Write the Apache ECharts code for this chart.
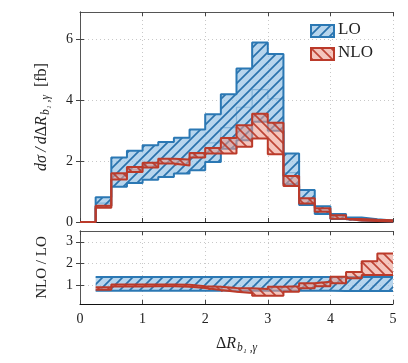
<!DOCTYPE html>
<html>
<head>
<meta charset="utf-8">
<script src="https://cdn.jsdelivr.net/npm/echarts@6/dist/echarts.min.js"></script>
<style>
html, body { margin: 0; padding: 0; background: #fff; }
#chart { width: 408px; height: 363px; }
</style>
</head>
<body>
<div id="chart"></div>
<script>
// bin edges (left edges, last bin ends at 5)
var edges = [0, 0.25, 0.5, 0.75, 1, 1.25, 1.5, 1.75, 2, 2.25, 2.5, 2.75, 3, 3.25, 3.5, 3.75, 4, 4.25, 4.5, 4.75];
var xEnd = 5;
// top panel, d sigma / d dR [fb]
var loUp  = [0, 0.81, 2.12, 2.34, 2.52, 2.63, 2.77, 3.04, 3.54, 4.20, 5.04, 5.90, 5.52, 2.25, 1.05, 0.52, 0.26, 0.15, 0.09, 0.05];
var loMid = [0, 0.62, 1.55, 1.72, 1.85, 1.93, 2.03, 2.22, 2.60, 3.10, 3.77, 4.35, 4.05, 1.62, 0.77, 0.38, 0.19, 0.11, 0.07, 0.04];
var loLo  = [0, 0.52, 1.16, 1.28, 1.39, 1.48, 1.59, 1.70, 1.97, 2.41, 2.69, 3.29, 3.00, 1.24, 0.56, 0.26, 0.10, 0.05, 0.03, 0.02];
var nloUp = [0, 0.53, 1.60, 1.81, 1.95, 2.08, 2.05, 2.27, 2.43, 2.76, 3.18, 3.56, 3.26, 1.51, 0.78, 0.45, 0.22, 0.10, 0.07, 0.06];
var nloLo = [0, 0.47, 1.40, 1.64, 1.79, 1.92, 1.86, 2.12, 2.25, 2.25, 2.47, 2.74, 2.23, 1.18, 0.61, 0.34, 0.11, 0.05, 0.03, 0.02];
// ratio panel (bins from 0.25)
var rEdges = [0.25, 0.5, 0.75, 1, 1.25, 1.5, 1.75, 2, 2.25, 2.5, 2.75, 3, 3.25, 3.5, 3.75, 4, 4.25, 4.5, 4.75];
var rLoUp  = [1.37, 1.37, 1.37, 1.37, 1.37, 1.37, 1.37, 1.37, 1.37, 1.37, 1.37, 1.37, 1.37, 1.37, 1.37, 1.37, 1.37, 1.37, 1.37];
var rLoLo  = [0.74, 0.74, 0.74, 0.74, 0.74, 0.74, 0.74, 0.74, 0.74, 0.74, 0.74, 0.74, 0.74, 0.74, 0.74, 0.73, 0.73, 0.73, 0.73];
var rNloUp = [0.90, 1.03, 1.03, 1.03, 1.03, 1.02, 0.95, 0.92, 0.87, 0.85, 0.82, 0.92, 0.95, 1.08, 1.15, 1.38, 1.61, 2.10, 2.46];
var rNloLo = [0.78, 0.93, 0.93, 0.94, 0.94, 0.92, 0.86, 0.77, 0.69, 0.63, 0.51, 0.51, 0.69, 0.85, 0.95, 1.08, 1.31, 1.46, 1.46];
var yTicks = [0, 2, 4, 6];
var rTicks = [1, 2, 3];

var BLUE = '#2b78b4';
var RED = '#bb3a2a';
var FONT = 'Liberation Serif';

function hatch(bg, fg, dir) {
    var c = document.createElement('canvas');
    c.width = 10; c.height = 10;
    var g = c.getContext('2d');
    g.fillStyle = bg;
    g.fillRect(0, 0, 10, 10);
    g.strokeStyle = fg;
    g.lineWidth = 1.7;
    g.beginPath();
    if (dir > 0) {
        g.moveTo(-5, 5); g.lineTo(5, -5);
        g.moveTo(0, 10); g.lineTo(10, 0);
        g.moveTo(5, 15); g.lineTo(15, 5);
    } else {
        g.moveTo(-5, 5); g.lineTo(5, 15);
        g.moveTo(0, 0); g.lineTo(10, 10);
        g.moveTo(5, -5); g.lineTo(15, 5);
    }
    g.stroke();
    return c;
}
var bluePat = {image: hatch('rgba(145,192,228,0.66)', 'rgba(35,110,170,0.95)', 1), repeat: 'repeat'};
var redPat = {image: hatch('rgba(236,155,142,0.58)', 'rgba(185,55,40,0.9)', -1), repeat: 'repeat'};

function steps(xs, vals) {
    var d = [];
    for (var i = 0; i < xs.length; i++) d.push([xs[i], vals[i]]);
    d.push([xEnd, vals[vals.length - 1]]);
    return d;
}

function stepLine(name, xi, yi, xs, vals, color, width, z) {
    return {
        name: name, type: 'line', xAxisIndex: xi, yAxisIndex: yi,
        step: 'end', symbol: 'none', silent: true, z: z,
        lineStyle: {color: color, width: width},
        data: steps(xs, vals)
    };
}

// filled band between two step curves
function band(xi, yi, xs, up, lo, pat, z) {
    return {
        type: 'custom', xAxisIndex: xi, yAxisIndex: yi, silent: true, z: z, clip: true,
        data: [[xs[0], lo[0]]],
        renderItem: function (params, api) {
            var pts = [];
            var i;
            for (i = 0; i < xs.length; i++) {
                var x1 = i + 1 < xs.length ? xs[i + 1] : xEnd;
                pts.push(api.coord([xs[i], up[i]]));
                pts.push(api.coord([x1, up[i]]));
            }
            for (i = xs.length - 1; i >= 0; i--) {
                var x2 = i + 1 < xs.length ? xs[i + 1] : xEnd;
                pts.push(api.coord([x2, lo[i]]));
                pts.push(api.coord([xs[i], lo[i]]));
            }
            return {type: 'polygon', shape: {points: pts}, style: {fill: pat, stroke: null}};
        }
    };
}

var axisGray = '#555';
function xAx(gi, pos, labels, lineColor) {
    return {
        type: 'value', gridIndex: gi, position: pos, min: 0, max: 5, interval: 1,
        axisLine: {show: true, onZero: false, lineStyle: {color: lineColor, width: 1}},
        axisTick: {show: true, inside: true, length: 4, lineStyle: {color: '#444'}},
        axisLabel: {show: labels, fontFamily: FONT, fontSize: 14, color: '#222', margin: 8},
        splitLine: {show: pos === 'bottom', lineStyle: {color: '#c8c8c8', type: [1, 3]}}
    };
}
function yAx(gi, pos, min, max, ticks, labels) {
    return {
        type: 'value', gridIndex: gi, position: pos, min: min, max: max,
        axisLine: {show: true, lineStyle: {color: axisGray, width: 1}},
        axisTick: {show: true, inside: true, length: 4, customValues: ticks, lineStyle: {color: '#444'}},
        axisLabel: {show: labels, customValues: ticks, fontFamily: FONT, fontSize: 14, color: '#222', margin: 7},
        splitLine: {show: pos === 'left', lineStyle: {color: '#c8c8c8', type: [1, 3]}}
    };
}

var nameStyle = {
    fontFamily: FONT, fontSize: 16, color: '#222',
    rich: {
        r: {fontFamily: FONT, fontSize: 16, color: '#222'},
        i: {fontFamily: FONT, fontSize: 16, fontStyle: 'italic', color: '#222'},
        s: {fontFamily: FONT, fontSize: 11.5, fontStyle: 'italic', color: '#222', padding: [9, 0, 0, 1]}
    }
};

var xs = [xAx(0, 'bottom', false, '#111'), xAx(0, 'top', false, axisGray), xAx(1, 'bottom', true, '#111'), xAx(1, 'top', false, axisGray)];
xs[2].name = '{r|Δ}{i|R}{s|b₁ ,γ}';
xs[2].nameLocation = 'middle';
xs[2].nameGap = 29;
xs[2].nameTextStyle = nameStyle;

var ys = [yAx(0, 'left', 0, 6.9, yTicks, true), yAx(0, 'right', 0, 6.9, yTicks, false), yAx(1, 'left', 0.125, 3.5, rTicks, true), yAx(1, 'right', 0.125, 3.5, rTicks, false)];
ys[0].name = '{i|dσ\u2009/\u2009d}{r|Δ}{i|R}{s|b₁ ,γ}{r|  [fb]}';
ys[0].nameLocation = 'middle';
ys[0].nameGap = 28;
ys[0].nameTextStyle = nameStyle;
ys[2].name = 'NLO / LO';
ys[2].nameLocation = 'middle';
ys[2].nameGap = 30;
ys[2].nameTextStyle = {fontFamily: FONT, fontSize: 15, color: '#222'};

var chart = echarts.init(document.getElementById('chart'), null, {renderer: 'canvas'});
chart.setOption({
    backgroundColor: '#fff',
    animation: false,
    grid: [
        {left: 80, top: 12, width: 313, height: 210},
        {left: 80, top: 231, width: 313, height: 73}
    ],
    xAxis: xs,
    yAxis: ys,
    graphic: [
        {type: 'rect', left: 310, top: 24, shape: {width: 23, height: 12}, style: {fill: bluePat, stroke: BLUE, lineWidth: 2}, z: 100},
        {type: 'text', left: 338, top: 21, style: {text: 'LO', font: '17px "Liberation Serif"', fill: '#222'}, z: 100},
        {type: 'rect', left: 310, top: 47, shape: {width: 23, height: 12}, style: {fill: redPat, stroke: RED, lineWidth: 2}, z: 100},
        {type: 'text', left: 338, top: 44, style: {text: 'NLO', font: '17px "Liberation Serif"', fill: '#222'}, z: 100}
    ],
    series: [
        band(0, 0, edges, loUp, loLo, bluePat, 2),
        stepLine('LO mid', 0, 0, edges, loMid, 'rgba(43,120,180,0.35)', 1.2, 3),
        stepLine('LO up', 0, 0, edges, loUp, BLUE, 2, 4),
        stepLine('LO lo', 0, 0, edges, loLo, BLUE, 2, 4),
        band(0, 0, edges, nloUp, nloLo, redPat, 5),
        stepLine('NLO up', 0, 0, edges, nloUp, RED, 2, 6),
        stepLine('NLO lo', 0, 0, edges, nloLo, RED, 2, 6),

        band(2, 2, rEdges, rLoUp, rLoLo, bluePat, 2),
        stepLine('rLO up', 2, 2, rEdges, rLoUp, BLUE, 2, 4),
        stepLine('rLO lo', 2, 2, rEdges, rLoLo, BLUE, 2, 4),
        band(2, 2, rEdges, rNloUp, rNloLo, redPat, 5),
        stepLine('rNLO up', 2, 2, rEdges, rNloUp, RED, 2, 6),
        stepLine('rNLO lo', 2, 2, rEdges, rNloLo, RED, 2, 6)
    ]
});
</script>
</body>
</html>
